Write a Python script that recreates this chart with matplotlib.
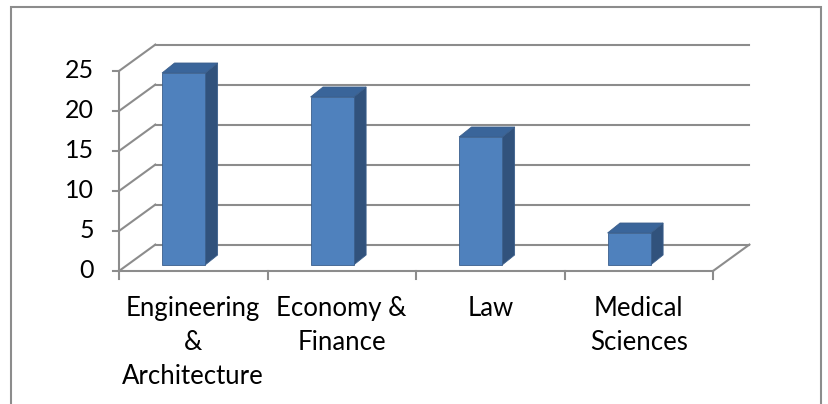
import matplotlib.pyplot as plt
from matplotlib.patches import Polygon, Rectangle

# ---------- data ----------
categories = ["Engineering\n&\nArchitecture", "Economy &\nFinance", "Law", "Medical\nSciences"]
values = [24, 21, 16, 4]
y_ticks = [0, 5, 10, 15, 20, 25]

# ---------- 3d look ----------
DX, DY = 0.245, 3.3          # depth of the plot box (category units, value units)
BAR_LEFT, BAR_W = 0.29, 0.29  # front face of each bar inside its category
BAR_BASE = 0.75               # bar sits a little inside the box
BDX, BDY = 0.084, 1.25        # depth of each bar

GRID = "#8c8c8c"
FRONT = "#4f81bd"
SIDE = "#31527c"
TOP = "#3a659a"
EDGE = "#3b5f8c"

fig = plt.figure(figsize=(8.29, 4.04), dpi=100)
ax = fig.add_axes([0, 0, 1, 1])
ax.set_xlim(-119 / 148.5, (829 - 119) / 148.5)
ax.set_ylim(-133 / 8, (404 - 133) / 8)
ax.axis("off")

n = len(categories)
top = max(y_ticks)

# back wall + side wall gridlines
for v in y_ticks:
    ax.plot([DX, n + DX], [v + DY, v + DY], color=GRID, lw=1.5, zorder=1)
    ax.plot([0, DX], [v, v + DY], color=GRID, lw=1.5, zorder=1)

# floor
ax.plot([0, n], [0, 0], color=GRID, lw=1.5, zorder=1)
ax.plot([n, n + DX], [0, DY], color=GRID, lw=1.5, zorder=1)

# front value axis and ticks
ax.plot([0, 0], [0, top], color=GRID, lw=1.5, zorder=1)
for v in y_ticks:
    ax.plot([-0.042, 0], [v, v], color=GRID, lw=1.5, zorder=1)
    ax.text(-0.17, v, str(v), ha="right", va="center", fontsize=18,
            family="Lato", color="black")

# category ticks and labels
for i in range(n + 1):
    ax.plot([i, i], [0, -1.0], color=GRID, lw=1.5, zorder=1)
for i, lab in enumerate(categories):
    ax.text(i + 0.5, -3.1, lab, ha="center", va="top", fontsize=18.5,
            family="Lato", linespacing=1.45, color="black")

# bars
for i, v in enumerate(values):
    x0 = i + BAR_LEFT
    x1 = x0 + BAR_W
    y0 = BAR_BASE
    y1 = BAR_BASE + v
    side = Polygon([(x1, y0), (x1 + BDX, y0 + BDY), (x1 + BDX, y1 + BDY), (x1, y1)],
                   facecolor=SIDE, edgecolor=EDGE, lw=0.6, zorder=3)
    cap = Polygon([(x0, y1), (x0 + BDX, y1 + BDY), (x1 + BDX, y1 + BDY), (x1, y1)],
                  facecolor=TOP, edgecolor=EDGE, lw=0.6, zorder=3)
    front = Rectangle((x0, y0), BAR_W, v, facecolor=FRONT, edgecolor=EDGE,
                      lw=0.6, zorder=4)
    ax.add_patch(side)
    ax.add_patch(cap)
    ax.add_patch(front)

# chart area border
fig.patches.append(Rectangle((11 / 829, -0.05), (821 - 11) / 829, 1.05 - 7 / 404,
                             transform=fig.transFigure, fill=False,
                             edgecolor="#8c8c8c", lw=1.5))

fig.savefig("out.png", dpi=100)
